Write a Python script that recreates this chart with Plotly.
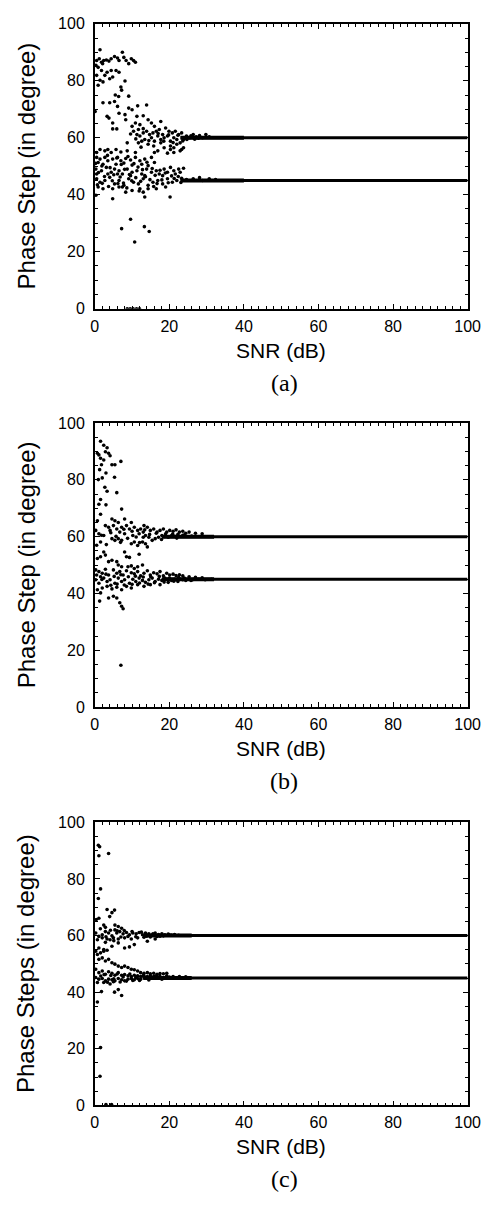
import plotly.graph_objects as go

# ---------------- data ----------------
# panel (a)
a_snr = [1.4,0.5,1.2,1.8,2.4,3.1,3.8,4.4,5.3,6.1,6.5,7.4,7.8,8.4,9.1,9.8,10.4,10.9,0.3,0.9,2.1,
         0.5,1.8,2.7,3.3,4.4,4.8,5.7,6.5,1.4,0.9,2.2,4.0,8.1,7.0,7.2,
         5.5,6.4,5.3,2.2,4.0,9.1,6.1,9.1,11.5,13.9,6.5,8.1,10.0,0.1,
         3.3,3.8,4.8,5.9,4.8,8.3,11.3,13.0,14.3,10.9,12.1,15.2,17.7,16.0,10.0,11.7,
         10.4,11.3,12.1,13.0,13.9,14.7,15.6,16.5,17.3,18.2,19.0,19.9,20.8,21.6,22.5,23.3,
         12.6,11.7,13.4,15.2,16.0,16.9,17.7,18.6,19.5,20.3,21.2,22.0,22.9,23.8,24.6,25.5,26.4,27.2,28.1,28.9,29.8,30.7,
         8.7,14.3,20.3,21.2,22.0,23.3,17.7,18.6,20.3,22.9,23.8,19.5,21.2,
         0.5,1.4,2.7,3.5,4.4,5.7,7.0,8.7,10.9,16.0,16.9,
         0.5,1.4,2.7,3.5,4.8,6.1,7.0,8.3,9.6,10.9,12.1,13.4,15.2,16.0,0.9,2.2,5.7,7.8,10.0,12.6,14.3,
         0.3,1.8,3.1,4.4,5.3,6.5,7.4,8.7,10.0,11.3,12.6,13.9,15.2,16.5,17.3,18.6,19.5,20.3,21.2,22.5,23.8,0.5,3.5,6.1,9.6,13.4,18.2,21.6,22.9,
         0.5,1.4,2.7,4.0,5.3,6.5,7.8,9.1,10.4,11.7,13.0,14.3,15.6,16.9,18.2,19.5,20.8,22.0,23.3,24.6,26.4,28.1,28.9,30.7,32.4,
         0.9,2.2,4.8,6.5,10.0,12.1,13.0,14.3,13.4,16.5,19.0,20.2,0.3,4.8,8.3,7.4,
         9.6,7.2,13.3,14.6,10.7,
         8.7,9.5,10.3,11.2,12.0,
         1.0,1.9,2.6,3.4,4.1,4.7,5.1,5.9,6.8,7.1,7.7,8.0,8.9,9.3,9.9,10.5,11.0,11.6,12.3,12.8,13.6,14.0,
         14.8,15.4,16.2,16.7,17.5,18.0,18.9,19.7,20.6,21.3,22.4,23.1,2.0,3.7,6.2,8.6,11.9,15.8,0.2,0.7,
         13.0,14.5,15.8,17.0,18.5,19.8,21.0,22.3,23.6,24.7,25.8,26.8,27.8,11.0,9.6,12.4]
a_phase = [90.9,87.1,87.7,86.5,87.1,87.3,86.9,87.7,88.5,88.0,87.1,90.0,88.2,87.1,86.0,87.7,87.1,86.5,85.4,84.7,86.0,
           81.9,83.6,81.9,83.0,83.6,81.3,83.6,83.0,80.2,78.4,79.6,80.7,79.9,77.8,76.7,
           75.0,74.5,72.7,72.3,72.3,74.6,71.0,70.4,71.2,71.5,68.6,68.1,69.8,69.2,
           67.5,66.9,65.2,63.1,63.1,66.3,67.5,67.7,66.3,65.2,64.6,65.2,65.7,64.0,64.0,62.9,
           62.3,61.1,60.6,61.7,62.3,61.1,61.7,62.3,62.9,61.1,63.4,62.3,61.7,62.3,61.1,61.7,
           58.8,58.2,59.4,60.0,58.8,60.6,59.4,60.0,60.6,58.8,60.0,59.4,58.2,59.4,60.6,60.0,61.1,60.3,60.8,60.0,61.1,60.3,
           58.2,57.7,57.1,56.5,57.7,55.9,58.2,56.5,55.9,55.4,56.5,54.6,54.8,
           54.8,55.9,55.4,55.9,54.8,55.9,55.0,55.4,54.8,54.8,55.4,
           53.1,52.5,53.1,51.9,52.5,53.1,51.9,52.7,52.2,53.1,51.9,52.5,53.1,51.3,51.3,50.7,50.7,51.1,50.4,50.7,50.2,
           49.0,48.4,49.6,47.9,49.0,48.4,47.3,49.0,47.9,48.4,47.3,49.0,47.9,48.4,47.3,49.0,47.9,49.6,48.4,49.0,49.3,47.3,47.3,47.3,46.7,46.7,46.7,47.3,47.9,
           45.6,44.4,45.0,46.1,43.8,45.0,43.3,45.6,44.4,43.8,45.6,43.3,44.4,45.0,43.8,45.6,44.4,45.0,45.8,45.3,45.6,46.0,45.0,45.6,45.3,
           42.7,42.1,42.1,42.7,41.5,42.1,40.9,42.1,39.2,42.1,42.7,39.2,39.8,38.6,40.9,42.7,
           31.4,28.1,28.8,27.1,23.4,
           0.0,0.0,0.0,0.0,0.0,
           47.8,50.1,46.4,53.8,49.5,44.9,47.0,52.9,46.2,50.6,44.1,48.9,53.4,47.1,44.9,50.9,46.0,49.7,44.7,48.8,46.3,51.4,
           45.3,49.2,46.8,43.9,48.6,45.2,47.6,44.2,46.6,45.7,46.4,44.3,44.0,42.9,43.9,42.4,41.3,42.9,51.0,43.5,
           63.2,59.0,57.1,61.5,58.8,61.0,58.3,60.9,58.9,59.4,60.7,59.5,59.8,59.6,61.3,56.7]

# panel (b)
b_snr = [1.55,2.4,3.3,2.85,3.7,1.1,0.7,1.55,2.4,4.1,4.6,5.4,7.0,1.8,1.3,3.0,2.0,0.95,5.3,2.7,3.3,5.9,1.55,1.1,3.0,7.2,1.55,
         0.7,4.6,5.4,6.3,8.0,9.8,2.85,3.7,5.0,5.9,7.2,8.5,9.3,10.6,11.5,12.3,13.2,14.1,14.9,15.8,16.7,17.5,18.4,19.3,20.1,21.0,21.8,22.7,23.6,24.4,25.3,27.0,28.8,
         0.26,1.1,2.4,4.1,6.7,8.0,10.2,11.9,13.6,14.5,15.4,16.2,17.1,18.0,18.8,19.7,20.6,21.4,22.3,23.6,
         4.6,5.4,6.3,7.2,1.55,9.8,10.6,11.5,12.8,13.6,14.1,13.0,13.0,
         2.4,2.85,0.7,1.55,3.7,4.6,5.9,8.0,8.5,9.3,6.3,7.2,8.9,9.8,10.6,11.5,12.8,11.9,
         0.26,1.1,2.0,2.85,3.7,5.0,5.9,6.7,7.6,8.5,9.8,10.6,11.5,12.3,13.2,14.1,14.9,15.8,16.7,17.5,18.4,19.3,20.1,21.0,21.8,22.7,23.6,25.3,27.0,28.8,0.5,1.55,
         0.26,1.1,2.4,3.3,4.1,5.4,6.3,7.2,8.0,9.3,10.2,11.0,11.9,12.8,13.6,14.5,15.4,16.2,17.1,18.0,18.8,19.7,20.6,21.4,22.3,23.6,24.4,26.2,27.9,29.6,31.3,
         0.7,2.0,3.3,4.6,5.9,7.2,8.5,9.8,11.5,13.2,14.9,17.5,1.55,3.7,5.0,5.9,6.7,7.2,7.6,1.3,
         7.0,
         3.1,4.3,5.7,6.9,7.8,8.8,10.0,11.1,12.0,13.4,14.7,16.5,17.9,19.0,20.9,22.0,24.0,26.0,1.8,0.5,
         1.9,3.0,4.3,5.2,6.0,7.0,7.9,9.0,10.0,10.9,12.0,13.0,14.3,15.0,16.0,17.3,18.6,20.0,21.2,22.5,24.0,25.8]
b_phase = [93.6,92.2,91.3,89.9,89.4,88.8,89.4,87.6,87.0,88.5,85.3,85.3,86.5,85.3,83.6,82.4,80.7,80.1,80.9,77.4,76.0,75.5,73.1,71.4,71.2,69.7,67.9,
           65.6,66.2,65.6,65.0,66.2,65.0,63.9,63.3,63.9,62.7,63.3,63.9,62.7,63.3,62.2,62.7,63.9,63.3,62.2,62.7,61.6,62.2,62.7,61.6,62.2,61.9,62.4,61.6,61.9,61.2,61.6,61.2,61.0,
           62.2,61.0,60.4,62.2,61.6,61.0,60.4,61.0,60.4,59.8,58.7,59.3,59.8,60.4,60.1,59.8,60.4,60.1,60.8,60.5,
           59.3,58.7,59.3,58.7,58.1,57.5,58.1,56.9,58.1,57.5,56.4,59.8,61.6,
           54.6,53.5,52.3,52.9,51.2,51.7,51.2,54.6,52.9,52.7,50.0,49.4,49.4,49.7,48.8,49.4,50.0,53.8,
           48.3,47.7,47.1,48.5,46.5,48.3,47.1,47.7,46.5,48.0,47.3,46.9,47.7,46.2,47.1,48.0,46.5,47.3,46.9,47.7,46.2,47.1,46.5,46.8,46.3,46.6,46.2,45.9,45.7,45.5,46.5,45.9,
           44.8,43.6,45.4,44.2,44.8,43.6,45.4,44.2,44.8,43.6,45.0,44.2,45.4,44.6,43.9,44.8,45.4,44.2,45.0,44.6,45.4,43.9,44.6,45.0,44.2,44.8,44.6,44.8,45.0,44.8,45.0,
           41.3,41.9,42.5,41.6,42.2,41.3,42.5,41.9,43.1,42.5,43.1,43.1,40.2,38.4,39.0,38.4,36.7,35.5,34.6,37.3,
           14.7,
           57.2,61.4,60.1,58.0,62.6,59.4,61.9,59.9,57.9,62.4,60.8,61.2,59.0,61.0,60.9,59.5,60.6,60.2,60.5,57.0,
           44.9,46.8,42.9,46.0,43.3,46.6,43.0,45.9,43.2,46.1,43.7,45.8,43.3,45.9,43.8,46.0,44.0,45.4,44.3,45.7,45.4,44.6]

# panel (c)
c_snr = [0.95,1.3,1.1,3.7,1.55,0.95,3.3,5.3,4.6,4.0,1.1,0.4,2.4,2.85,5.4,6.3,7.2,
         0.26,1.1,2.0,2.85,3.7,4.6,5.4,5.9,6.7,7.6,8.5,9.3,10.2,11.1,11.9,12.8,13.6,14.5,15.4,16.2,17.1,18.0,18.8,19.7,20.6,21.4,
         0.7,2.0,3.3,4.1,5.0,6.3,8.0,9.8,11.5,13.2,14.9,16.7,18.4,2.85,6.3,14.1,16.2,
         1.1,2.4,4.6,8.0,9.3,10.6,
         0.26,0.7,1.55,2.4,3.3,1.1,2.0,2.85,3.7,4.6,5.4,6.3,7.2,8.0,8.9,9.8,10.6,11.5,12.3,13.2,14.1,14.9,15.8,16.7,17.5,18.4,19.3,
         0.26,1.1,2.0,2.85,3.7,4.6,5.4,6.3,7.2,8.0,8.9,9.8,10.6,11.5,12.3,13.2,14.1,14.9,15.8,16.7,17.5,19.3,21.0,22.7,24.4,
         0.26,1.1,2.0,2.85,3.7,4.6,5.4,6.3,7.2,8.0,8.9,9.8,10.6,11.5,12.3,13.2,14.1,14.9,16.7,18.4,
         0.7,2.4,4.1,5.0,6.3,7.2,1.8,5.3,0.7,1.55,1.4,
         3.0,4.5,
         1.5,3.0,4.2,5.1,6.0,7.0,7.9,8.9,10.0,11.0,12.5,13.9,15.6,17.5,20.0,22.5,
         1.6,2.5,3.4,4.3,5.1,6.0,6.8,7.6,8.5,9.4,10.2,11.0,12.0,13.0,14.5,16.0,18.0,20.0,22.0]
c_phase = [91.9,91.4,88.2,89.0,76.5,73.1,69.2,69.0,68.1,66.7,66.1,65.7,63.7,62.9,63.7,63.2,62.6,
           60.9,59.7,60.3,61.4,60.9,59.9,62.0,60.9,61.4,60.6,61.1,60.3,60.9,60.6,61.1,60.3,60.9,60.6,60.2,60.9,60.4,60.6,60.3,60.5,60.2,60.4,
           58.5,59.2,58.8,58.5,59.2,58.8,59.2,58.8,59.2,59.4,59.5,59.7,59.9,57.6,57.4,58.0,58.8,
           55.6,55.1,56.2,55.6,56.0,56.8,
           54.5,53.3,53.9,54.5,54.8,51.6,52.1,51.0,51.6,50.4,49.9,49.2,48.7,49.2,48.7,48.1,47.9,47.5,46.9,46.7,46.9,46.5,46.7,46.3,46.6,46.5,46.7,
           48.1,46.9,47.5,46.3,47.2,46.7,46.0,46.9,46.0,46.2,45.8,45.5,46.0,45.8,45.5,45.8,45.5,45.8,45.5,45.8,45.5,45.8,45.5,45.5,45.4,
           45.2,44.6,44.8,44.0,44.6,44.4,44.0,44.8,44.4,44.0,44.6,44.8,44.4,44.8,44.6,45.2,44.8,45.1,45.1,45.2,
           43.4,43.4,42.9,43.7,40.9,38.8,40.2,40.0,36.5,20.4,10.3,
           0.3,0.3,
           62.4,59.6,61.9,58.2,61.7,59.5,61.8,59.7,61.4,59.6,61.2,59.8,60.6,59.8,60.3,60.1,
           45.7,46.2,43.5,45.9,44.7,46.4,43.6,45.4,43.9,46.4,44.1,45.2,44.1,45.9,44.3,45.6,44.6,45.3,45.1]

# converged estimates (dense runs of dots that merge into solid lines)
band_levels = [60, 45]
band_start = {"a": 23, "b": 18, "c": 13}
band_spread_end = {"a": 40, "b": 32, "c": 26}
snr_end = 100

panels = [("a", a_snr, a_phase, "Phase Step (in degree)"),
          ("b", b_snr, b_phase, "Phase Step (in degree)"),
          ("c", c_snr, c_phase, "Phase Steps (in degree)")]

H, W = 1208, 497
x_left, x_right = 94, 480
tops = [16, 421, 826]
bottoms = [305, 709, 1113]

fig = go.Figure()
AX = "Liberation Sans, Arial, sans-serif"

for i, (key, xs, ys, ytitle) in enumerate(panels):
    n = "" if i == 0 else str(i + 1)
    xa, ya = "x" + n, "y" + n
    for lvl in band_levels:
        fig.add_trace(go.Scatter(x=[band_start[key], snr_end], y=[lvl, lvl], mode="lines",
                                 line=dict(color="black", width=3), xaxis=xa, yaxis=ya,
                                 showlegend=False, hoverinfo="skip"))
        fig.add_trace(go.Scatter(x=[band_start[key], band_spread_end[key]], y=[lvl, lvl], mode="lines",
                                 line=dict(color="black", width=4), xaxis=xa, yaxis=ya,
                                 showlegend=False, hoverinfo="skip"))
    fig.add_trace(go.Scatter(x=xs, y=ys, mode="markers",
                             marker=dict(color="black", size=3.6, line=dict(width=0)),
                             xaxis=xa, yaxis=ya, showlegend=False))
    top, bot = tops[i], bottoms[i]
    common = dict(showline=True, linecolor="black", linewidth=1.6, mirror="allticks",
                  ticks="inside", ticklen=5, tickcolor="black", tickwidth=1.2,
                  showgrid=False, zeroline=False,
                  tickfont=dict(family=AX, size=16, color="black"))
    fig.layout["xaxis" + n] = dict(domain=[x_left / W, x_right / W], anchor=ya,
                                   range=[0, 100], dtick=20, tick0=0, ticklabelstandoff=2,
                                   minor=dict(dtick=2, ticks="inside", ticklen=3, tickwidth=1, tickcolor="black"),
                                   **common)
    fig.layout["yaxis" + n] = dict(domain=[1 - bot / H, 1 - top / H], anchor=xa,
                                   range=[0, 100], dtick=20, tick0=0, ticklabelstandoff=5,
                                   minor=dict(dtick=5, ticks="inside", ticklen=3, tickwidth=1, tickcolor="black"),
                                   **common)
    cx = (x_left + x_right) / 2 / W
    fig.add_annotation(text="SNR (dB)", x=cx, y=1 - (bot + 42) / H, xref="paper", yref="paper",
                       showarrow=False, font=dict(family=AX, size=21, color="black"),
                       xanchor="center", yanchor="middle")
    fig.add_annotation(text=ytitle, x=23 / W, y=1 - (top + bot) / 2 / H, xref="paper", yref="paper",
                       showarrow=False, textangle=-90, font=dict(family=AX, size=24, color="black"),
                       xanchor="center", yanchor="middle")
    fig.add_annotation(text="(" + key + ")", x=290 / W, y=1 - (bot + 75) / H, xref="paper", yref="paper",
                       showarrow=False, font=dict(family="Liberation Serif, DejaVu Serif, serif", size=24, color="black"),
                       xanchor="center", yanchor="middle")

fig.update_layout(width=W, height=H, margin=dict(l=0, r=0, t=0, b=0),
                  paper_bgcolor="white", plot_bgcolor="white")
fig.write_html("out.html")
